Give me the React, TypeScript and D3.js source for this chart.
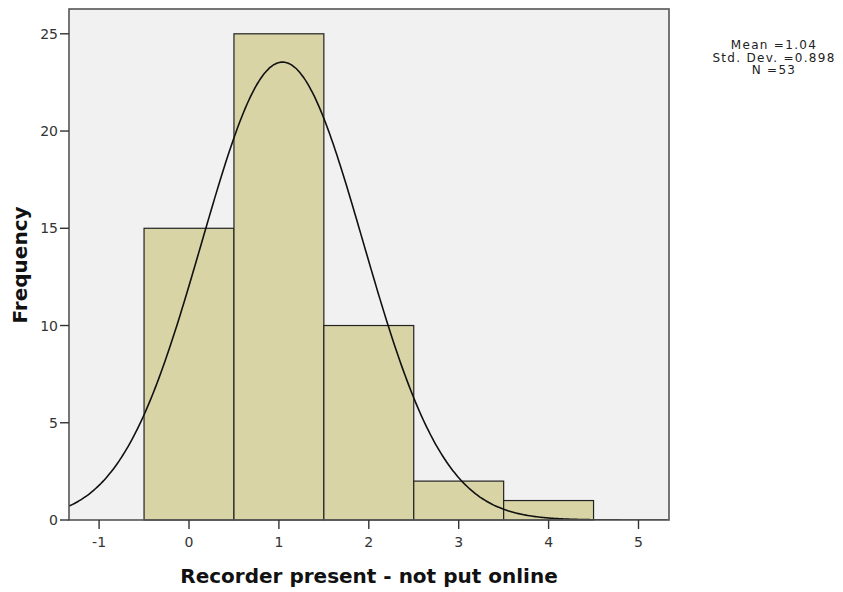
import React from "react";
import * as d3 from "d3";

const binCenters = [0, 1, 2, 3, 4];
const frequencies = [15, 25, 10, 2, 1];
const xTicks = [-1, 0, 1, 2, 3, 4, 5];
const yTicks = [0, 5, 10, 15, 20, 25];
const statMean = [1.04];
const statSD = [0.898];
const statN = [53];
const statLines = ["Mean =1.04", "Std. Dev. =0.898", "N =53"];
const xTitle = "Recorder present - not put online";
const yTitle = "Frequency";

const W = 843;
const H = 592;
const plot = { left: 69, right: 669, top: 9, bottom: 520 };
const FONT = "'DejaVu Sans', sans-serif";

export default function App() {
  const x = d3.scaleLinear().domain([0, 1]).range([189, 278.9]);
  const xMin = x.invert(plot.left);
  const xMax = x.invert(plot.right);
  const y = d3.scaleLinear().domain([0, 25]).range([plot.bottom, 33.8]);

  const mean = statMean[0];
  const sd = statSD[0];
  const n = statN[0];
  const binW = 1;
  const pdf = (v: number) =>
    (n * binW * Math.exp(-0.5 * ((v - mean) / sd) ** 2)) / (sd * Math.sqrt(2 * Math.PI));
  const samples = d3.range(xMin, xMax + 0.001, 0.02).filter((v) => v <= xMax);
  const line = d3
    .line<number>()
    .x((v) => x(v))
    .y((v) => y(pdf(v)))
    .curve(d3.curveMonotoneX);

  return (
    <svg
      width={W}
      height={H}
      style={{ position: "absolute", left: 0, top: 0, background: "#fff" }}
      fontFamily={FONT}
    >
      <defs>
        <clipPath id="pc">
          <rect x={plot.left} y={plot.top} width={plot.right - plot.left} height={plot.bottom - plot.top} />
        </clipPath>
      </defs>
      <rect
        x={plot.left}
        y={plot.top}
        width={plot.right - plot.left}
        height={plot.bottom - plot.top}
        fill="#f1f1f1"
      />
      {binCenters.map((c, i) => (
        <rect
          key={c}
          x={x(c - binW / 2)}
          y={y(frequencies[i])}
          width={x(c + binW / 2) - x(c - binW / 2)}
          height={y(0) - y(frequencies[i])}
          fill="#d8d4a6"
          stroke="#222"
          strokeWidth={1.2}
        />
      ))}
      <path d={line(samples) || ""} fill="none" stroke="#111" strokeWidth={1.6} clipPath="url(#pc)" />
      <rect
        x={plot.left}
        y={plot.top}
        width={plot.right - plot.left}
        height={plot.bottom - plot.top}
        fill="none"
        stroke="#555"
        strokeWidth={1.6}
      />
      {yTicks.map((t) => (
        <g key={t}>
          <line x1={plot.left - 9} x2={plot.left} y1={y(t)} y2={y(t)} stroke="#333" strokeWidth={1.4} />
          <text x={plot.left - 11} y={y(t)} dy="0.36em" textAnchor="end" fontSize={14} fill="#333">
            {t}
          </text>
        </g>
      ))}
      {xTicks.map((t) => (
        <g key={t}>
          <line x1={x(t)} x2={x(t)} y1={plot.bottom} y2={plot.bottom + 9} stroke="#333" strokeWidth={1.4} />
          <text x={x(t)} y={plot.bottom + 27} textAnchor="middle" fontSize={14} fill="#333">
            {t < 0 ? "-" + Math.abs(t) : t}
          </text>
        </g>
      ))}
      <text x={369} y={583} textAnchor="middle" fontSize={20} fontWeight="bold" fill="#111">
        {xTitle}
      </text>
      <text
        transform={`translate(27, ${265}) rotate(-90)`}
        textAnchor="middle"
        fontSize={20}
        fontWeight="bold"
        fill="#111"
      >
        {yTitle}
      </text>
      {statLines.map((s, i) => (
        <text
          key={s}
          x={774}
          y={49 + i * 12.5}
          textAnchor="middle"
          fontSize={12}
          letterSpacing={1.3}
          fill="#222"
        >
          {s}
        </text>
      ))}
    </svg>
  );
}
